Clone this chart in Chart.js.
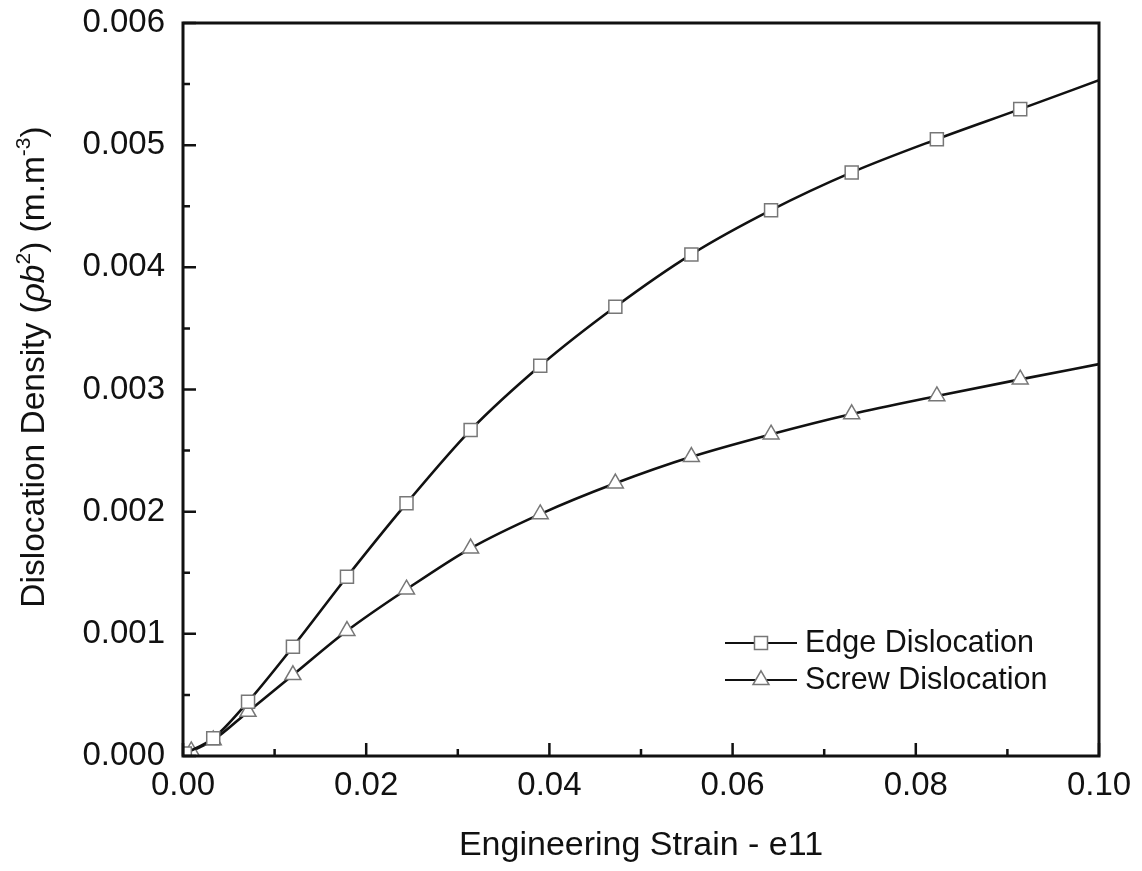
<!DOCTYPE html>
<html>
<head>
<meta charset="utf-8">
<script src="https://cdn.jsdelivr.net/npm/chart.js@4.4.0/dist/chart.umd.min.js"></script>
<style>
  html, body { margin: 0; padding: 0; background: #fff; }
</style>
</head>
<body>
<canvas id="chart" width="1142" height="871"></canvas>
<script>
// values (strain, density), last point = curve end without marker
var edgeStrain   = [0.0002, 0.0033, 0.0071, 0.0120, 0.0179, 0.0244, 0.0314, 0.0390, 0.0472, 0.0555, 0.0642, 0.0730, 0.0823, 0.0914, 0.1000];
var edgeDensity  = [0.00002, 0.000145, 0.000444, 0.000894, 0.001467, 0.002068, 0.002668, 0.003194, 0.003677, 0.004106, 0.004468, 0.004777, 0.005049, 0.005295, 0.005532];
var screwStrain  = [0.0009, 0.0033, 0.0071, 0.0120, 0.0179, 0.0244, 0.0314, 0.0390, 0.0472, 0.0555, 0.0642, 0.0730, 0.0823, 0.0914, 0.1000];
var screwDensity = [0.00004, 0.00013, 0.000363, 0.000663, 0.001025, 0.001364, 0.0017, 0.00198, 0.002232, 0.002449, 0.002633, 0.002799, 0.002946, 0.003083, 0.003208];

var seriesNames = ['Edge Dislocation', 'Screw Dislocation'];
var xTitle = 'Engineering Strain - e11';
// y title pieces: text, italic, superscript
var yTitleParts = [
    ['Dislocation Density (', false, false],
    ['\u03C1b', true, false],
    ['2', false, true],
    [') (m.m', false, false],
    ['-3', false, true],
    [')', false, false]
];

var FONT = '"Liberation Sans", Arial, sans-serif';
var INK = '#111';

function toPoints(xs, ys) {
    return xs.map(function (x, i) { return { x: x, y: ys[i] }; });
}

// no marker on the last point (curve end at the frame)
function markerRadius(n) {
    return function (c) { return c.dataIndex === n - 1 ? 0 : 9.2; };
}

// frame + inward ticks (major and minor)
var framePlugin = {
    id: 'frame',
    afterDatasetsDraw: function (chart) {
        var ctx = chart.ctx, a = chart.chartArea;
        var xs = chart.scales.x, ys = chart.scales.y;
        ctx.save();
        ctx.strokeStyle = INK;
        ctx.lineWidth = 3;
        ctx.strokeRect(a.left, a.top, a.right - a.left, a.bottom - a.top);
        ctx.lineWidth = 2.5;
        ctx.beginPath();
        xs.ticks.forEach(function (t, i) {
            var px = xs.getPixelForValue(t.value);
            ctx.moveTo(px, a.bottom); ctx.lineTo(px, a.bottom - 13);
            if (i < xs.ticks.length - 1) {
                var m = xs.getPixelForValue((t.value + xs.ticks[i + 1].value) / 2);
                ctx.moveTo(m, a.bottom); ctx.lineTo(m, a.bottom - 7);
            }
        });
        ys.ticks.forEach(function (t, i) {
            var py = ys.getPixelForValue(t.value);
            ctx.moveTo(a.left, py); ctx.lineTo(a.left + 13, py);
            if (i < ys.ticks.length - 1) {
                var m = ys.getPixelForValue((t.value + ys.ticks[i + 1].value) / 2);
                ctx.moveTo(a.left, m); ctx.lineTo(a.left + 7, m);
            }
        });
        ctx.stroke();
        ctx.restore();
    }
};

function drawMarker(ctx, style, x, y, r) {
    ctx.beginPath();
    if (style === 'rect') {
        var s = r * Math.SQRT1_2;
        ctx.rect(x - s, y - s, 2 * s, 2 * s);
    } else {
        ctx.moveTo(x, y - r);
        ctx.lineTo(x + Math.sin(2 * Math.PI / 3) * r, y + r / 2);
        ctx.lineTo(x - Math.sin(2 * Math.PI / 3) * r, y + r / 2);
        ctx.closePath();
    }
    ctx.fillStyle = '#fff';
    ctx.fill();
    ctx.strokeStyle = '#777';
    ctx.lineWidth = 1.5;
    ctx.stroke();
}

// legend inside the plot, line + marker sample
var legendPlugin = {
    id: 'innerLegend',
    afterDraw: function (chart) {
        var ctx = chart.ctx, a = chart.chartArea;
        var x0 = a.left + 542, y0 = a.bottom - 113;
        chart.data.datasets.forEach(function (ds, i) {
            var y = y0 + i * 37;
            ctx.save();
            ctx.strokeStyle = INK;
            ctx.lineWidth = 2.2;
            ctx.beginPath();
            ctx.moveTo(x0, y); ctx.lineTo(x0 + 72, y);
            ctx.stroke();
            drawMarker(ctx, ds.pointStyle, x0 + 36, y, 9.2);
            ctx.fillStyle = INK;
            ctx.font = '30.5px ' + FONT;
            ctx.textBaseline = 'middle';
            ctx.textAlign = 'left';
            ctx.fillText(ds.label, x0 + 80, y + 1);
            ctx.restore();
        });
    }
};

// rotated y title with italic rho and superscripts
var yTitlePlugin = {
    id: 'yTitle',
    afterDraw: function (chart) {
        var ctx = chart.ctx;
        var size = 33.5, sup = 21;
        ctx.save();
        var fonts = yTitleParts.map(function (p) {
            return (p[1] ? 'italic ' : '') + (p[2] ? sup : size) + 'px ' + FONT;
        });
        var total = 0;
        yTitleParts.forEach(function (p, i) {
            ctx.font = fonts[i];
            total += ctx.measureText(p[0]).width;
        });
        ctx.translate(32, 367);
        ctx.rotate(-Math.PI / 2);
        ctx.fillStyle = INK;
        ctx.textBaseline = 'alphabetic';
        ctx.textAlign = 'left';
        var x = -total / 2;
        yTitleParts.forEach(function (p, i) {
            ctx.font = fonts[i];
            ctx.fillText(p[0], x, p[2] ? -2 : 12);
            x += ctx.measureText(p[0]).width;
        });
        ctx.restore();
    }
};

new Chart(document.getElementById('chart'), {
    type: 'line',
    data: {
        datasets: [{
            label: seriesNames[0],
            data: toPoints(edgeStrain, edgeDensity),
            borderColor: INK,
            borderWidth: 2.6,
            pointStyle: 'rect',
            pointRadius: markerRadius(edgeStrain.length),
            pointBackgroundColor: '#fff',
            pointBorderColor: '#777',
            pointBorderWidth: 1.5,
            cubicInterpolationMode: 'monotone',
            fill: false
        }, {
            label: seriesNames[1],
            data: toPoints(screwStrain, screwDensity),
            borderColor: INK,
            borderWidth: 2.6,
            pointStyle: 'triangle',
            pointRadius: markerRadius(screwStrain.length),
            pointBackgroundColor: '#fff',
            pointBorderColor: '#777',
            pointBorderWidth: 1.5,
            cubicInterpolationMode: 'monotone',
            fill: false
        }]
    },
    options: {
        responsive: false,
        animation: false,
        layout: { padding: { left: 0, top: 23, right: 43, bottom: 0 } },
        plugins: {
            legend: { display: false },
            tooltip: { enabled: false }
        },
        scales: {
            x: {
                type: 'linear',
                min: 0, max: 0.1,
                grid: { display: false, drawTicks: false },
                border: { display: false },
                ticks: {
                    stepSize: 0.02,
                    padding: 10,
                    color: INK,
                    font: { family: FONT, size: 33 },
                    callback: function (v) { return v.toFixed(2); }
                },
                title: {
                    display: true,
                    text: xTitle,
                    color: INK,
                    font: { family: FONT, size: 34 },
                    padding: { top: 0, bottom: 5 }
                },
                afterFit: function (s) {
                    s.height = 115;
                    s.paddingLeft = 0;
                    s.paddingRight = 0;
                }
            },
            y: {
                type: 'linear',
                min: 0, max: 0.006,
                grid: { display: false, drawTicks: false },
                border: { display: false },
                ticks: {
                    stepSize: 0.001,
                    padding: 18,
                    color: INK,
                    font: { family: FONT, size: 33 },
                    callback: function (v) { return v.toFixed(3); }
                },
                afterFit: function (s) {
                    s.width = 183;
                    s.paddingTop = 0;
                    s.paddingBottom = 0;
                }
            }
        }
    },
    plugins: [framePlugin, legendPlugin, yTitlePlugin]
});
</script>
</body>
</html>
